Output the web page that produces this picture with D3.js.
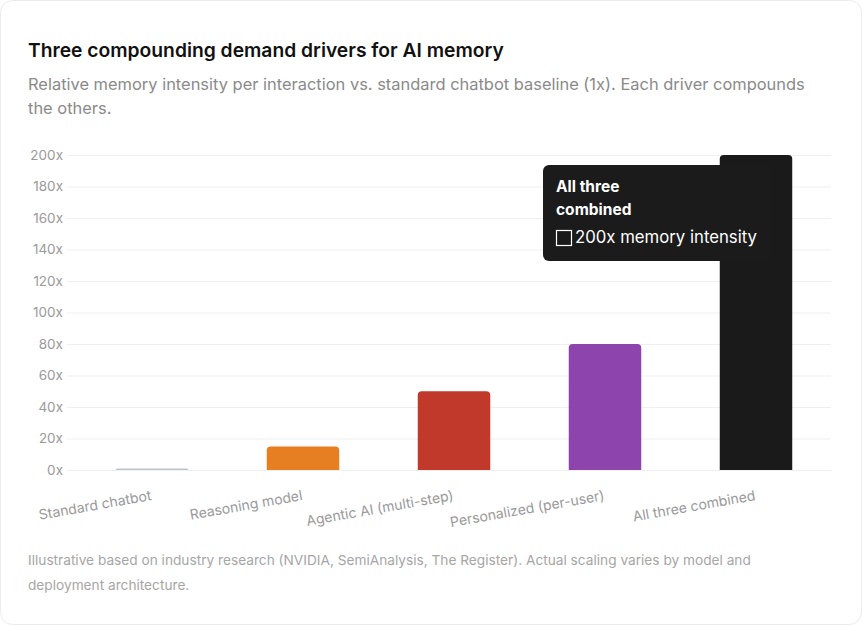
<!DOCTYPE html>
<html>
<head>
<meta charset="utf-8">
<title>AI memory demand drivers</title>
<style>
  html, body { margin: 0; padding: 0; background: #fff; }
  svg text { font-family: Inter, "Open Sans", sans-serif; }
</style>
</head>
<body>
<svg id="canvas" width="863" height="626"></svg>
<script src="https://cdn.jsdelivr.net/npm/d3@7"></script>
<script>
// data
const categories = ["Standard chatbot", "Reasoning model", "Agentic AI (multi-step)", "Personalized (per-user)", "All three combined"];
const values = [1, 15, 50, 80, 200];
const colors = ["#bdc3c7", "#e67e22", "#c0392b", "#8e44ad", "#1a1a1a"];
const yTicks = [0, 20, 40, 60, 80, 100, 120, 140, 160, 180, 200];

const svg = d3.select("#canvas");

// shrink/grow a text's font size so it spans a given width
function fit(sel, target) {
  let fs = parseFloat(sel.attr("font-size"));
  let w = sel.node().getComputedTextLength();
  if (w > 0) sel.attr("font-size", (fs * target / w).toFixed(2));
  return sel;
}

// card
svg.append("rect")
  .attr("x", 0.5).attr("y", 0.5)
  .attr("width", 861).attr("height", 624)
  .attr("rx", 12)
  .attr("fill", "#fff")
  .attr("stroke", "#ececec");

// title + subtitle
fit(svg.append("text")
  .attr("x", 28).attr("y", 57)
  .attr("font-size", 18).attr("font-weight", 600)
  .attr("fill", "#111")
  .text("Three compounding demand drivers for AI memory"), 476);

let sub = ["Relative memory intensity per interaction vs. standard chatbot baseline (1x). Each driver compounds", "the others."];
let s1 = svg.append("text")
  .attr("x", 28).attr("y", 90)
  .attr("font-size", 16).attr("fill", "#8a8a8a")
  .text(sub[0]);
fit(s1, 778);
svg.append("text")
  .attr("x", 28).attr("y", 114)
  .attr("font-size", s1.attr("font-size")).attr("fill", "#8a8a8a")
  .text(sub[1]);

// scales
let x = d3.scaleBand()
  .domain(categories)
  .range([76.5, 831.5])
  .paddingInner(0.52)
  .paddingOuter(0.26);

let y = d3.scaleLinear()
  .domain([0, 200])
  .range([470, 155]);

// gridlines
svg.append("g")
  .selectAll("line")
  .data(yTicks)
  .enter().append("line")
    .attr("x1", 67).attr("x2", 831)
    .attr("y1", d => y(d) + 0.5).attr("y2", d => y(d) + 0.5)
    .attr("stroke", "#efefef");

// y axis labels
let yAxis = svg.append("g")
  .attr("transform", "translate(67,0)")
  .call(d3.axisLeft(y).tickValues(yTicks).tickFormat(d => d + "x").tickSize(0).tickPadding(4));
yAxis.select(".domain").remove();
yAxis.selectAll("text")
  .attr("font-size", 13.5)
  .attr("fill", "#9a9a9a")
  .style("font-family", "Inter, sans-serif");

// bars with rounded tops
function barPath(d, i) {
  let x0 = x(categories[i]), w = x.bandwidth();
  let y0 = y(0), y1 = y(d);
  let r = Math.min(4, (y0 - y1), w / 2);
  return "M" + x0 + "," + y0 +
    "V" + (y1 + r) +
    "Q" + x0 + "," + y1 + " " + (x0 + r) + "," + y1 +
    "H" + (x0 + w - r) +
    "Q" + (x0 + w) + "," + y1 + " " + (x0 + w) + "," + (y1 + r) +
    "V" + y0 + "Z";
}

svg.append("g")
  .selectAll("path")
  .data(values)
  .enter().append("path")
    .attr("d", barPath)
    .attr("fill", (d, i) => colors[i]);

// x axis labels, tilted
svg.append("g")
  .selectAll("text")
  .data(categories)
  .enter().append("text")
    .attr("transform", d => "translate(" + (x(d) + x.bandwidth() / 2) + ",500) rotate(-10)")
    .attr("text-anchor", "end")
    .attr("font-size", 14)
    .attr("fill", "#9a9a9a")
    .text(d => d);

// tooltip on the last bar
let last = categories.length - 1;
let tip = svg.append("g").attr("transform", "translate(543,165)");
tip.append("rect")
  .attr("width", 227).attr("height", 96)
  .attr("rx", 6)
  .attr("fill", "#1b1b1b");
tip.append("text")
  .attr("x", 13).attr("y", 27)
  .attr("font-size", 15.5).attr("font-weight", 700).attr("fill", "#fff")
  .text("All three");
tip.append("text")
  .attr("x", 13).attr("y", 50)
  .attr("font-size", 15.5).attr("font-weight", 700).attr("fill", "#fff")
  .text("combined");
tip.append("rect")
  .attr("x", 13.5).attr("y", 65.5)
  .attr("width", 15).attr("height", 15)
  .attr("fill", colors[last])
  .attr("stroke", "#fff").attr("stroke-width", 1.2);
fit(tip.append("text")
  .attr("x", 32).attr("y", 78)
  .attr("font-size", 15.5).attr("fill", "#fff")
  .text(values[last] + "x memory intensity"), 182);

// footnote
let f1 = svg.append("text")
  .attr("x", 28).attr("y", 565)
  .attr("font-size", 13.5).attr("fill", "#a6a6a6")
  .text("Illustrative based on industry research (NVIDIA, SemiAnalysis, The Register). Actual scaling varies by model and");
fit(f1, 723);
svg.append("text")
  .attr("x", 28).attr("y", 590)
  .attr("font-size", f1.attr("font-size")).attr("fill", "#a6a6a6")
  .text("deployment architecture.");
</script>
</body>
</html>
